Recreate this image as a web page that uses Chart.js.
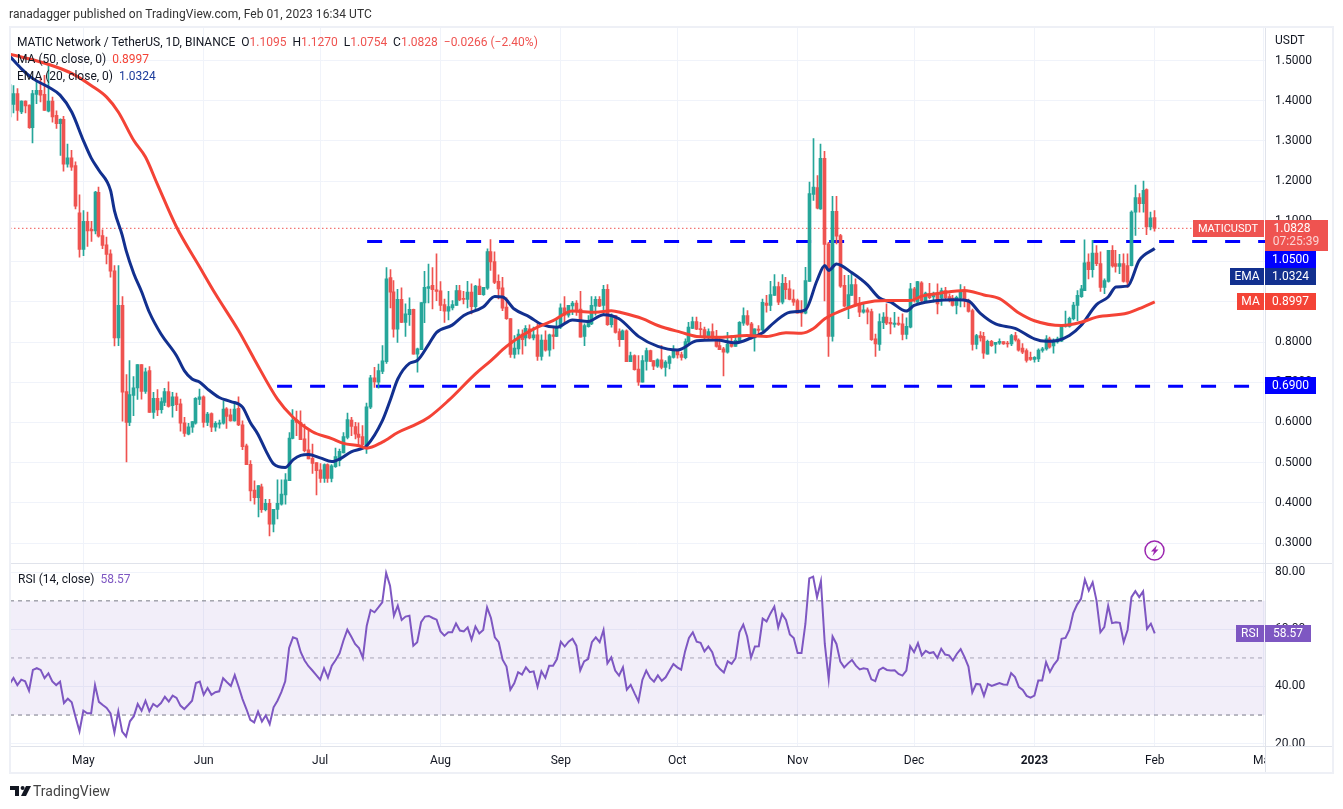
<!DOCTYPE html>
<html>
<head>
<meta charset="utf-8">
<title>MATICUSDT</title>
<script src="https://cdn.jsdelivr.net/npm/chart.js@4/dist/chart.umd.js"></script>
<style>
  body { margin: 0; background: #fff; font-family: Roboto, sans-serif; font-size: 12px; color: #131722; }
  canvas { position: absolute; left: 0; top: 0; }
  .txt { position: absolute; white-space: pre; line-height: 16px; }
  .red { color: #ef5350; }
  .ma { color: #f44336; }
  .ema { color: #1c3c9c; }
  .rsi { color: #7e57c2; }
</style>
</head>
<body>
<canvas id="chart" width="1343" height="809"></canvas>
<div class="txt" style="left:9px;top:6px;color:#333;letter-spacing:.06px">ranadagger published on TradingView.com, Feb 01, 2023 16:34 UTC</div>
<div class="txt" style="left:17px;top:34px">MATIC Network / TetherUS, 1D, BINANCE  O<span class="red">1.1095</span>  H<span class="red">1.1270</span>  L<span class="red">1.0754</span>  C<span class="red">1.0828</span>  <span class="red">−0.0266 (−2.40%)</span></div>
<div class="txt" style="left:17px;top:51px">MA (50, close, 0)  <span class="ma">0.8997</span></div>
<div class="txt" style="left:17px;top:68px">EMA (20, close, 0)  <span class="ema">1.0324</span></div>
<div class="txt" style="left:18px;top:571px">RSI (14, close)  <span class="rsi">58.57</span></div>
<div class="txt" style="left:1275px;top:32px">USDT</div>
<svg style="position:absolute;left:0;top:780px" width="32" height="22"><path d="M10 6h9v10h-4v-6h-5z" fill="#131722"/><circle cx="22.6" cy="8" r="2" fill="#131722"/><path d="M26 6h5l-5 10h-5z" fill="#131722"/></svg>
<div class="txt" style="left:33px;top:783px;font-size:14px;color:#444">TradingView</div>
<script>
const tickDays = [19, 50, 80, 111, 142, 172, 203, 233, 264, 295, 323]
const tickLabels = ['May', 'Jun', 'Jul', 'Aug', 'Sep', 'Oct', 'Nov', 'Dec', '2023', 'Feb', 'Mar']
const priceTicks = [1.5, 1.4, 1.3, 1.2, 1.1, 1.0, 0.9, 0.8, 0.7, 0.6, 0.5, 0.4, 0.3]
const rsiTicks = [80, 60, 40, 20]

const opens = [
  1.36,1.391,1.418,1.372,1.399,1.389,1.333,1.416,1.426,1.416,
  1.374,1.399,1.364,1.343,1.354,1.242,1.258,1.239,1.121,1.03,
  1.1,1.08,1.076,1.172,1.065,1.042,1.019,.977,.81,.891,
  .677,.6,.667,.686,.744,.677,.729,.625,.66,.632,
  .65,.677,.642,.664,.646,.599,.571,.588,.598,.657,
  .664,.6,.622,.588,.596,.598,.634,.619,.604,.635,
  .594,.542,.496,.432,.413,.44,.383,.399,.347,.384,
  .397,.42,.455,.56,.606,.6,.559,.532,.511,.5,
  .482,.461,.495,.461,.49,.505,.524,.563,.606,.59,
  .571,.565,.536,.638,.711,.7,.727,.751,.96,.925,
  .832,.906,.849,.868,.881,.77,.781,.897,.933,.941,
  .93,.927,.893,.877,.885,.891,.928,.908,.906,.924,
  .888,.939,.918,.934,1.025,1.0,.951,.935,.887,.858,
  .769,.783,.82,.81,.833,.81,.818,.764,.805,.78,
  .818,.814,.837,.885,.867,.89,.897,.882,.814,.838,
  .845,.889,.906,.891,.931,.843,.866,.826,.806,.828,
  .751,.766,.733,.7,.752,.779,.754,.74,.756,.737,
  .747,.762,.78,.769,.761,.8,.834,.851,.833,.831,
  .814,.826,.814,.791,.783,.775,.795,.789,.802,.847,
  .866,.845,.81,.832,.83,.897,.891,.916,.938,.899,
  .946,.932,.907,.903,.874,.872,.951,1.167,1.184,1.131,
  1.257,1.044,.814,1.125,1.065,.941,.887,.916,.943,.895,
  .874,.88,.876,.808,.794,.848,.862,.849,.844,.847,
  .845,.819,.837,.932,.899,.947,.902,.92,.912,.92,
  .909,.928,.913,.909,.891,.909,.926,.903,.878,.794,
  .816,.814,.77,.802,.794,.797,.801,.797,.795,.816,
  .805,.785,.779,.762,.757,.758,.779,.783,.808,.79,
  .8,.802,.839,.839,.858,.891,.913,.928,.999,.98,
  1.021,.995,.936,.951,1.028,.995,.988,.995,.99,.99,
  1.123,1.159,1.144,1.179,1.086,1.1095
]
const highs = [
  1.476,1.438,1.43,1.4,1.4,1.39,1.426,1.451,1.455,1.463,
  1.492,1.409,1.375,1.355,1.361,1.292,1.277,1.248,1.166,1.127,
  1.123,1.1,1.175,1.185,1.079,1.061,1.029,.99,.99,.913,
  .719,.754,.714,.744,.744,.735,.739,.675,.682,.661,
  .685,.701,.675,.673,.658,.613,.598,.602,.662,.683,
  .666,.625,.624,.602,.606,.654,.637,.633,.652,.664,
  .604,.546,.505,.455,.443,.447,.409,.409,.384,.457,
  .457,.473,.575,.632,.628,.629,.596,.579,.546,.5,
  .498,.497,.497,.495,.536,.534,.575,.623,.613,.6,
  .599,.592,.648,.717,.737,.745,.791,.985,.98,.953,
  .931,.935,.895,.91,.882,.785,.898,.976,.994,.985,
  1.019,.95,.907,.926,.903,.941,.941,.926,.951,.945,
  .941,.957,.936,1.032,1.055,1.024,.967,.961,.91,.858,
  .816,.831,.83,.841,.843,.837,.845,.818,.828,.82,
  .837,.858,.895,.913,.891,.901,.903,.926,.845,.866,
  .913,.913,.913,.941,.943,.87,.866,.833,.83,.83,
  .775,.768,.766,.766,.785,.78,.754,.758,.791,.754,
  .766,.791,.78,.775,.808,.849,.862,.862,.849,.837,
  .833,.845,.829,.812,.787,.824,.816,.812,.851,.885,
  .878,.849,.833,.841,.907,.916,.951,.968,.949,.968,
  .961,.953,.93,.907,.903,.986,1.198,1.306,1.214,1.292,
  1.274,1.048,1.162,1.162,1.068,.966,.966,.974,.957,.911,
  .899,.885,.882,.82,.87,.873,.895,.86,.874,.862,
  .87,.86,.946,.936,.951,.95,.924,.946,.924,.945,
  .934,.936,.92,.916,.914,.943,.938,.907,.882,.819,
  .826,.824,.805,.804,.799,.808,.801,.802,.819,.824,
  .808,.796,.783,.775,.764,.783,.787,.816,.812,.808,
  .812,.843,.877,.862,.899,.928,.941,1.054,1.019,1.053,
  1.04,1.024,.957,1.028,1.04,1.028,1.018,1.019,1.019,1.126,
  1.19,1.169,1.2,1.181,1.123,1.127
]
const lows = [
  1.331,1.37,1.351,1.368,1.37,1.331,1.295,1.393,1.397,1.376,
  1.372,1.347,1.331,1.264,1.225,1.235,1.227,1.131,1.011,1.015,
  1.038,1.05,1.069,1.061,1.032,.994,.961,.79,.791,.603,
  .502,.592,.617,.657,.658,.672,.625,.61,.617,.623,
  .642,.638,.613,.629,.578,.565,.569,.575,.596,.644,
  .588,.592,.577,.578,.586,.596,.585,.603,.603,.592,
  .532,.495,.405,.397,.365,.376,.38,.318,.328,.36,
  .394,.397,.455,.559,.567,.557,.527,.509,.473,.42,
  .451,.451,.451,.452,.488,.492,.524,.559,.567,.559,
  .545,.54,.523,.634,.687,.685,.721,.747,.885,.812,
  .799,.848,.814,.841,.77,.725,.781,.848,.897,.882,
  .903,.878,.849,.855,.88,.891,.903,.895,.885,.87,
  .878,.918,.916,.931,.978,.945,.907,.878,.856,.762,
  .76,.77,.77,.79,.808,.805,.754,.755,.777,.765,
  .783,.813,.833,.845,.862,.868,.866,.812,.791,.837,
  .843,.867,.888,.867,.841,.837,.822,.789,.806,.751,
  .751,.73,.692,.7,.73,.751,.731,.737,.733,.715,
  .733,.76,.76,.755,.758,.795,.833,.831,.816,.808,
  .804,.808,.787,.781,.716,.772,.787,.789,.8,.841,
  .841,.808,.777,.814,.828,.874,.878,.916,.893,.895,
  .907,.905,.891,.872,.839,.87,.951,1.152,1.131,1.13,
  .902,.764,.802,1.044,.936,.887,.858,.916,.891,.863,
  .872,.845,.804,.764,.779,.833,.843,.82,.837,.841,
  .805,.808,.835,.899,.897,.899,.899,.907,.899,.87,
  .891,.907,.9,.889,.87,.887,.887,.874,.78,.783,
  .802,.759,.77,.789,.772,.794,.794,.787,.791,.802,
  .777,.771,.75,.754,.75,.751,.775,.78,.785,.772,
  .797,.801,.837,.837,.855,.853,.911,.928,.957,.961,
  .99,.926,.92,.949,.986,.974,.97,.949,.936,.989,
  1.065,1.123,1.123,1.067,1.079,1.0754
]
const closes = [
  1.44,1.418,1.376,1.399,1.387,1.333,1.418,1.426,1.414,1.376,
  1.399,1.36,1.343,1.354,1.242,1.258,1.235,1.138,1.03,1.1,
  1.076,1.076,1.173,1.063,1.04,1.018,.976,.81,.891,.675,
  .6,.669,.686,.744,.677,.726,.625,.66,.631,.652,
  .677,.64,.664,.644,.598,.573,.589,.602,.66,.664,
  .6,.621,.588,.598,.599,.633,.615,.604,.633,.594,
  .54,.495,.43,.413,.443,.383,.399,.347,.384,.399,
  .422,.457,.561,.606,.6,.557,.53,.509,.498,.48,
  .461,.495,.461,.492,.515,.528,.565,.607,.59,.571,
  .563,.545,.639,.711,.701,.729,.753,.957,.924,.832,
  .906,.849,.87,.881,.77,.783,.898,.936,.938,.93,
  .926,.891,.877,.888,.893,.928,.905,.906,.924,.888,
  .939,.918,.936,1.025,.999,.948,.932,.884,.858,.769,
  .785,.82,.806,.834,.81,.818,.764,.805,.78,.818,
  .814,.838,.885,.867,.891,.897,.878,.812,.841,.849,
  .891,.906,.889,.931,.843,.864,.824,.806,.828,.751,
  .766,.731,.7,.754,.779,.752,.74,.756,.737,.75,
  .764,.78,.768,.762,.801,.837,.851,.832,.831,.814,
  .826,.812,.789,.781,.775,.795,.789,.804,.849,.866,
  .844,.812,.833,.829,.899,.891,.918,.938,.899,.946,
  .93,.906,.899,.872,.872,.953,1.169,1.185,1.133,1.257,
  1.043,.814,1.125,1.063,.939,.889,.918,.943,.893,.874,
  .88,.874,.806,.795,.851,.862,.847,.845,.847,.844,
  .819,.839,.932,.907,.95,.903,.922,.91,.92,.895,
  .928,.91,.907,.891,.911,.926,.907,.876,.794,.816,
  .81,.772,.802,.791,.799,.802,.795,.795,.816,.805,
  .78,.775,.754,.757,.762,.78,.783,.808,.787,.802,
  .808,.841,.841,.859,.892,.916,.932,.997,.98,1.021,
  .995,.936,.953,1.028,.989,.988,.995,.951,.949,1.123,
  1.159,1.144,1.177,1.086,1.109,1.0828
]

const emaDays = [
  0,3,6,10,13,16,19,21,23,26, 27,29,30,32,34,36,39,43,45,47,
  49,51,54,57,60,62,64,66,68,71, 73,75,77,80,83,85,88,91,92,96,
  98,100,103,105,108,110,114,117,122,125, 127,130,134,137,141,145,149,153,157,162,
  167,172,177,182,187,191,194,197,201,205, 208,210,211,213,217,221,224,227,231,233,
  238,244,247,250,254,259,264,267,270,273, 276,280,283,285,288,291,295
]
const emaValues = [
  1.511,1.48,1.455,1.434,1.414,1.372,1.301,1.258,1.227,1.177, 1.127,1.066,1.028,.97,.925,.874,.82,.766,.729,.708,
  .7,.683,.662,.652,.638,.6,.57,.53,.497,.488, .507,.518,.52,.512,.503,.509,.527,.536,.542,.604,
  .654,.708,.747,.754,.795,.824,.842,.866,.887,.913, .912,.882,.862,.844,.837,.855,.851,.868,.858,.814,
  .789,.78,.803,.805,.798,.81,.823,.849,.874,.88, .953,.99,.978,.994,.972,.942,.91,.899,.877,.891,
  .902,.905,.902,.872,.845,.834,.808,.802,.804,.816, .841,.893,.912,.937,.939,1.003,1.0324
]
const maDays = [
  0,6,12,16,21,25,28,32,35,38,43,49,53,59,63,69,73,78,83,86,90,92,96,100,104,108,113,120,124,128,132,136,
  140,145,151,155,158,163,167,173,177,183,190,195,200,204,207,210,214,220,226,232,235,240,246,251,255,260,264,271,276,280,288,292,295
]
const maValues = [
  1.516,1.502,1.484,1.468,1.438,1.409,1.372,1.301,1.26,1.194,1.086,.986,.92,.828,.758,.658,.613,.577,.56,.548,.542,.536,.551,.575,.592,.613,.654,.721,.754,.789,.816,.837,
  .853,.877,.874,.878,.872,.858,.841,.824,.814,.812,.816,.814,.823,.822,.833,.858,.877,.897,.903,.903,.914,.922,.928,.917,.908,.872,.853,.841,.849,.862,.872,.887,.8997
]
const rsiValues = [
  40.9,43,40.5,42.4,41.8,38.5,45.8,46.4,45.8,42.9,
  44.6,41.8,40.5,41.7,34.2,35.7,34.5,29.2,24.3,31.5,
  30.6,30.6,40.5,34.6,33.5,32.5,30.6,23.9,31.3,24.2,
  22.5,27.8,29.6,33.9,31.5,35,31.3,33.9,32.9,34.2,
  36.4,34.7,36.8,36,33.3,32.1,33.5,35,41.2,41.7,
  37.1,39.5,37.1,38,38.3,42.9,41.5,40.2,44,39.9,
  35.6,32.1,28.3,27.4,31.2,27.7,29.9,26.8,32.7,35,
  38,41.8,53.5,57.2,56.7,52,49.1,47.1,45.6,44,
  42.4,46.4,43.1,47.3,49.3,51.6,56.1,59.9,57.5,54.9,
  53.5,50,61.3,66.8,66,67.7,69.5,79.8,75.3,64.8,
  68.3,63.3,64.5,64.8,54.3,55.5,62.5,64.5,64.7,64,
  63.4,59.3,57.8,59,59,62.1,59.6,59.3,60.7,56.4,
  61,58.6,59.8,67.7,64,57.2,55.5,49.4,47,38.9,
  41.1,45,44.2,46.7,45,45.3,39.9,45.3,43,47.3,
  47.3,49.6,55.7,54,55.7,56.7,54.3,45.6,48.8,49.6,
  55.5,57.2,55.5,59.8,48.1,50.2,45.6,43.8,46.7,38.9,
  40.6,37.6,34.8,42.3,45.6,43,41.7,43.9,42,43.2,
  45.6,47.9,46.7,45.9,52.3,57,59,55.7,55.3,52.3,
  54,52,47.7,46.1,44.9,48.8,47.9,49.9,59,61.7,
  57.5,50.1,54,54.1,63.8,62.8,65.6,68,60.7,65.4,
  63.3,58.2,57,51.7,51.7,61.9,77.9,78.5,71.3,76.9,
  54.9,42.6,57.5,54.9,48.7,46.7,48.1,49.3,47.3,46,
  46.4,46.1,42.5,41.9,45.8,46.6,45.8,45.6,45.7,44.4,
  43.8,45.6,54.1,52,55.2,50.9,52.5,51.7,52,50,
  53.2,51.2,50.9,49.1,51.4,53.1,50.3,47,37.9,40.9,
  40.7,36.7,40.9,40.2,40.7,41.2,40.7,40.6,44.7,43.3,
  39.8,38.8,36.7,36.1,36.8,42.1,42.1,48.5,45.1,47.6,
  49.3,56.7,57,59.8,65.7,68.7,70.7,77.5,73.6,76.5,
  70.1,59,60.8,68.3,62.2,62.5,62.3,55.6,59.8,71.3,
  73.4,71.3,73.3,60.2,62,58.57
]

const xMin = 0.1
const xMax = 323.4
const lastClose = 1.0828
const upColor = '#26a69a'
const downColor = '#ef5350'
const font = 'Roboto, sans-serif'

const candleColors = closes.map((c, i) => c >= opens[i] ? upColor : downColor)
const hline = (y, from, to) => [{ x: from, y: y }, { x: to, y: y }]
const pairUp = (days, vals) => days.map((d, i) => ({ x: d, y: vals[i] }))

// tags on the price axis: right, top, left, bottom, colour, text
const tags = [
  [1316, 251, 1265, 268, '#0000ff', '1.0500'],
  [1316, 268, 1265, 285, '#12308f', '1.0324'],
  [1264, 268, 1230, 285, '#12308f', 'EMA'],
  [1316, 293, 1265, 310, '#f44336', '0.8997'],
  [1264, 293, 1237, 310, '#f44336', 'MA'],
  [1316, 377, 1265, 394, '#0000ff', '0.6900'],
  [1311, 625, 1265, 642, '#7e57c2', '58.57'],
  [1264, 625, 1236, 642, '#7e57c2', 'RSI'],
]

const snapCandles = {
  id: 'snapCandles',
  afterDatasetsUpdate(chart) {
    chart.getSortedVisibleDatasetMetas().forEach(m => {
      if (m.type === 'bar') m.data.forEach(el => { el.x = Math.round(el.x - 0.5) + 0.5 })
    })
  }
}

const furniture = {
  id: 'furniture',
  afterDraw(chart) {
    const c = chart.ctx
    c.save()
    // cover the part of the Mar label that runs under the price axis
    c.fillStyle = '#fff'
    c.fillRect(1266, 748, 64, 24)
    // pane lines and frame
    c.fillStyle = '#e0e3eb'
    c.fillRect(10, 563, 1322, 1)
    c.fillRect(10, 746, 1322, 1)
    c.fillRect(1265, 27, 1, 746)
    c.fillStyle = '#eef0f6'
    c.fillRect(9, 26, 1325, 2)
    c.fillRect(9, 772, 1325, 2)
    c.fillRect(9, 26, 2, 748)
    c.fillRect(1332, 26, 2, 748)

    c.textBaseline = 'middle'
    c.font = '12px ' + font
    tags.forEach(t => {
      c.fillStyle = t[4]
      c.fillRect(t[2], t[1], t[0] - t[2], t[3] - t[1])
      c.fillStyle = '#fff'
      c.textAlign = 'center'
      c.fillText(t[5], (t[0] + t[2]) / 2, (t[1] + t[3]) / 2 + 0.5)
    })
    // last price tag
    c.fillStyle = downColor
    c.fillRect(1193, 220, 71, 17)
    c.fillRect(1265, 220, 63, 31)
    c.fillStyle = '#fff'
    c.fillText('1.0828', 1292, 229)
    c.font = '11px ' + font
    c.fillText('MATICUSDT', 1228, 229)
    c.font = '12px ' + font
    c.fillStyle = 'rgba(255,255,255,.75)'
    c.fillText('07:25:39', 1296, 242)

    // news badge
    c.strokeStyle = '#9c27b0'
    c.lineWidth = 1.5
    c.beginPath()
    c.arc(1154.5, 550.5, 9.5, 0, Math.PI * 2)
    c.stroke()
    c.fillStyle = '#9c27b0'
    c.beginPath()
    c.moveTo(1157, 545)
    c.lineTo(1151, 551.5)
    c.lineTo(1154, 551.5)
    c.lineTo(1152.5, 556)
    c.lineTo(1158.5, 549.5)
    c.lineTo(1155.5, 549.5)
    c.closePath()
    c.fill()
    c.restore()
  }
}

const lineDefaults = { type: 'line', pointRadius: 0, fill: false }

new Chart(document.getElementById('chart'), {
  data: {
    datasets: [
      { ...lineDefaults, label: 'MA 50', data: pairUp(maDays, maValues), yAxisID: 'y', borderColor: '#f44336', borderWidth: 3, cubicInterpolationMode: 'monotone', order: 1 },
      { ...lineDefaults, label: 'EMA 20', data: pairUp(emaDays, emaValues), yAxisID: 'y', borderColor: '#12308f', borderWidth: 3, cubicInterpolationMode: 'monotone', order: 1 },
      { type: 'bar', label: 'Body', data: closes.map((c, i) => ({ x: i, y: [opens[i], c] })), yAxisID: 'y', backgroundColor: candleColors, barThickness: 3, minBarLength: 1, grouped: false, order: 2 },
      { type: 'bar', label: 'Wick', data: highs.map((h, i) => ({ x: i, y: [lows[i], h] })), yAxisID: 'y', backgroundColor: candleColors, barThickness: 1, grouped: false, order: 3 },
      { ...lineDefaults, label: 'Last', data: hline(lastClose, xMin, xMax), yAxisID: 'y', borderColor: downColor, borderWidth: 1, borderDash: [1.5, 2.5], order: 4 },
      { ...lineDefaults, label: 'Resistance', data: hline(1.05, 92.1, xMax), yAxisID: 'y', borderColor: '#0000ff', borderWidth: 3, borderDash: [15, 18], order: 5 },
      { ...lineDefaults, label: 'Support', data: hline(0.69, 68.9, 319.6), yAxisID: 'y', borderColor: '#0000ff', borderWidth: 3, borderDash: [15, 18], order: 5 },

      { ...lineDefaults, label: 'RSI', data: rsiValues.map((v, i) => ({ x: i, y: v })), yAxisID: 'yRsi', borderColor: '#7e57c2', borderWidth: 2, order: 1 },
      { ...lineDefaults, label: 'Upper', data: hline(70, xMin, xMax), yAxisID: 'yRsi', borderColor: '#787b86', borderWidth: 1, borderDash: [4, 4], fill: { value: 30 }, backgroundColor: 'rgba(126,87,194,.1)', order: 6 },
      { ...lineDefaults, label: 'Middle', data: hline(50, xMin, xMax), yAxisID: 'yRsi', borderColor: 'rgba(120,123,134,.6)', borderWidth: 1, borderDash: [4, 4], order: 6 },
      { ...lineDefaults, label: 'Lower', data: hline(30, xMin, xMax), yAxisID: 'yRsi', borderColor: '#787b86', borderWidth: 1, borderDash: [4, 4], order: 6 },
    ]
  },
  options: {
    responsive: false,
    animation: false,
    events: [],
    layout: { autoPadding: false, padding: { left: 10, top: 27, right: 0, bottom: 36 } },
    plugins: { legend: { display: false }, tooltip: { enabled: false } },
    scales: {
      x: {
        type: 'linear',
        offset: false,
        min: xMin,
        max: xMax,
        afterBuildTicks: s => { s.ticks = tickDays.map(d => ({ value: d })) },
        afterFit: s => { s.height = 26 },
        grid: { color: '#f0f3fa', drawTicks: false, offset: false },
        border: { display: false },
        ticks: {
          autoSkip: false,
          maxRotation: 0,
          padding: 7,
          color: '#131722',
          font: c => ({ family: font, size: 12, weight: c.tick && c.tick.value === 264 ? 'bold' : 'normal' }),
          callback: v => tickLabels[tickDays.indexOf(v)]
        }
      },
      y: {
        position: 'right',
        stack: 'panes',
        stackWeight: 536,
        min: 0.2486,
        max: 1.5834,
        afterBuildTicks: s => { s.ticks = priceTicks.map(v => ({ value: v })) },
        afterFit: s => { s.width = 78 },
        grid: { color: '#f0f3fa', drawTicks: false },
        border: { display: false },
        ticks: { padding: 10, color: '#131722', font: { family: font, size: 12 }, callback: v => v.toFixed(4) }
      },
      yRsi: {
        position: 'right',
        stack: 'panes',
        stackWeight: 183,
        min: 18.8,
        max: 83,
        afterBuildTicks: s => { s.ticks = rsiTicks.map(v => ({ value: v })) },
        afterFit: s => { s.width = 78 },
        grid: { color: '#f0f3fa', drawTicks: false },
        border: { display: false },
        ticks: { padding: 10, color: '#131722', font: { family: font, size: 12 }, callback: v => v.toFixed(2) }
      }
    }
  },
  plugins: [snapCandles, furniture]
})
</script>
</body>
</html>
